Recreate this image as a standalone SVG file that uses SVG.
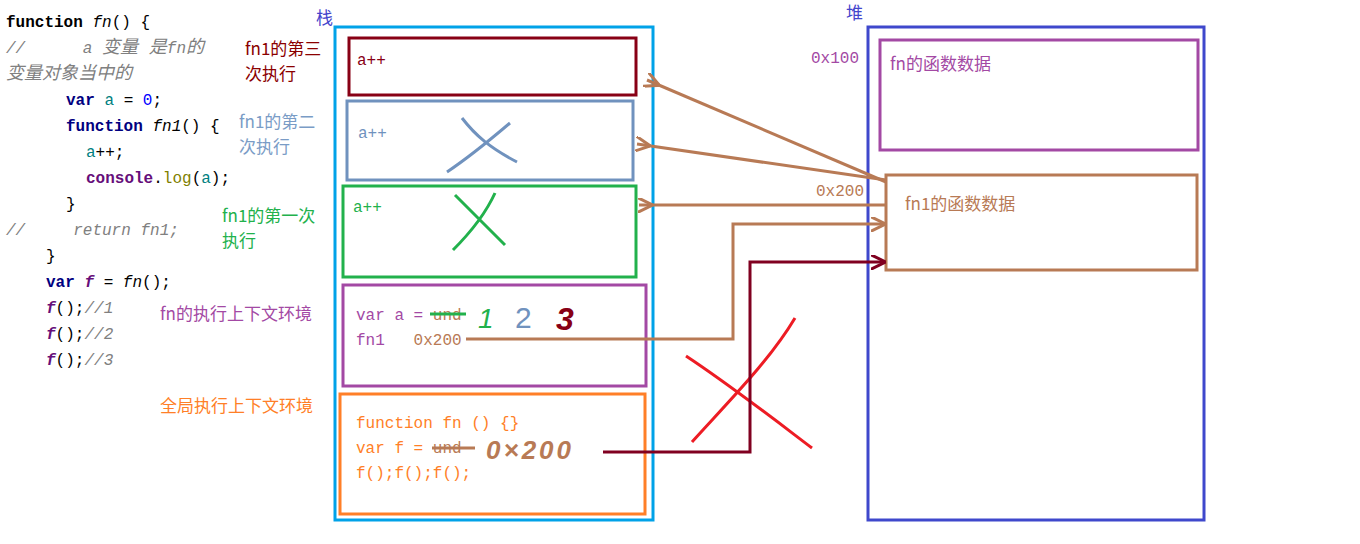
<svg xmlns="http://www.w3.org/2000/svg" width="1360" height="544" viewBox="0 0 1360 544" xml:space="preserve">
<style>
text{white-space:pre}
.m{font-family:"Liberation Mono","Noto Sans CJK SC",monospace;font-size:16px}
.c{font-family:"Noto Sans CJK SC",sans-serif;font-size:17px}
.b{font-weight:bold;fill:#000080}
.k{fill:#808080;font-style:italic}
.box{fill:none;stroke-width:3}
.ln{fill:none;stroke-width:3}
</style>
<defs>
<marker id="ab" viewBox="0 0 10 10" refX="9" refY="5" markerWidth="5" markerHeight="5" orient="auto-start-reverse"><path d="M10,0 L0,5 L10,10" fill="none" stroke="#b87a55" stroke-width="2"/></marker>
<marker id="ar" viewBox="0 0 10 10" refX="9" refY="5" markerWidth="5" markerHeight="5" orient="auto"><path d="M0,0 L10,5 L0,10" fill="none" stroke="#800020" stroke-width="2"/></marker>
<marker id="ao" viewBox="0 0 10 10" refX="9" refY="5" markerWidth="5" markerHeight="5" orient="auto"><path d="M0,0 L10,5 L0,10" fill="none" stroke="#b87a55" stroke-width="2"/></marker>
</defs>
<rect width="1360" height="544" fill="#fff"/>
<g id="code" class="m">
<text x="6" y="27" class="b" style="fill:#000">function <tspan font-style="italic" font-weight="normal">fn</tspan><tspan font-weight="normal">() {</tspan></text>
<text x="6" y="53" class="k">//      a <tspan font-size="18">变量 是</tspan>fn<tspan font-size="18">的</tspan></text>
<text x="6" y="79" class="k" font-size="18">变量对象当中的</text>
<text x="66" y="105"><tspan class="b">var</tspan> <tspan fill="#008080">a</tspan> = <tspan fill="#0000ff">0</tspan>;</text>
<text x="66" y="131"><tspan class="b">function</tspan> <tspan font-style="italic">fn1</tspan>() {</text>
<text x="86" y="157" fill="#008080">a<tspan fill="#000">++;</tspan></text>
<text x="86" y="183"><tspan font-weight="bold" fill="#660e7a">console</tspan>.<tspan fill="#808000">log</tspan>(<tspan fill="#008080">a</tspan>);</text>
<text x="66" y="209">}</text>
<text x="6" y="235" class="k">//     return fn1;</text>
<text x="46" y="261">}</text>
<text x="46" y="287"><tspan class="b">var</tspan> <tspan font-style="italic" font-weight="bold" fill="#660e7a">f</tspan> = <tspan font-style="italic">fn</tspan>();</text>
<text x="46" y="313"><tspan font-style="italic" font-weight="bold" fill="#660e7a">f</tspan>();<tspan class="k">//1</tspan></text>
<text x="46" y="339"><tspan font-style="italic" font-weight="bold" fill="#660e7a">f</tspan>();<tspan class="k">//2</tspan></text>
<text x="46" y="365"><tspan font-style="italic" font-weight="bold" fill="#660e7a">f</tspan>();<tspan class="k">//3</tspan></text>
</g>
<g id="labels" class="c">
<text x="245" y="55" fill="#8b0000">fn1的第三</text><text x="245" y="80" fill="#8b0000">次执行</text>
<text x="239" y="128" fill="#7a9cc6">fn1的第二</text><text x="239" y="153" fill="#7a9cc6">次执行</text>
<text x="222" y="222" fill="#22b14c">fn1的第一次</text><text x="222" y="247" fill="#22b14c">执行</text>
<text x="160" y="320" fill="#a349a4">fn的执行上下文环境</text>
<text x="160" y="412" fill="#ff7f27">全局执行上下文环境</text>
<text x="316" y="24" fill="#4444cc">栈</text>
<text x="846" y="19" fill="#4444cc">堆</text>
</g>
<g id="stack"><rect x="335" y="27" width="318" height="493" class="box" stroke="#00a2e8"/></g>
<g id="heap"><rect x="868" y="27" width="336" height="493" class="box" stroke="#3f48cc"/></g>
<g id="fn1-3"><rect x="349" y="38" width="287" height="57" class="box" stroke="#880015"/><text x="357" y="65" class="m" fill="#880015" font-size="14">a++</text></g>
<g id="fn1-2"><rect x="347" y="101" width="286" height="79" class="box" stroke="#7092be"/><text x="358" y="138" class="m" fill="#7092be" font-size="14">a++</text>
<path d="M462,118 C475,135 490,148 517,162 M510,123 C490,140 465,160 447,172" class="ln" stroke="#7092be"/></g>
<g id="fn1-1"><rect x="343" y="186" width="293" height="91" class="box" stroke="#22b14c"/><text x="353" y="212" class="m" fill="#22b14c" font-size="14">a++</text>
<path d="M455,195 C470,210 490,230 505,245 M495,193 C485,215 468,235 453,250" class="ln" stroke="#22b14c"/></g>
<g id="fn" class="m"><rect x="343" y="285" width="303" height="101" class="box" stroke="#a349a4"/>
<text x="356" y="320" fill="#a349a4">var a = <tspan fill="#b87a55">und</tspan></text>
<line x1="430" y1="314" x2="466" y2="314" stroke="#22b14c" stroke-width="3"/>
<text x="356" y="345" fill="#a349a4">fn1   <tspan fill="#b87a55">0x200</tspan></text>
<text x="478" y="328" fill="#22b14c" font-size="28" font-family="Liberation Sans,sans-serif" font-style="italic">1</text>
<text x="515" y="328" fill="#7092be" font-size="30" font-family="Liberation Sans,sans-serif">2</text>
<text x="556" y="330" fill="#880015" font-size="32" font-family="Liberation Sans,sans-serif" font-weight="bold" font-style="italic">3</text></g>
<g id="global" class="m"><rect x="340" y="394" width="305" height="120" class="box" stroke="#ff7f27"/>
<text x="356" y="428" fill="#ff7f27">function fn () {}</text>
<text x="356" y="453" fill="#ff7f27">var f = <tspan fill="#b87a55">und</tspan></text>
<line x1="432" y1="448" x2="475" y2="448" stroke="#b87a55" stroke-width="3"/>
<text x="356" y="478" fill="#ff7f27">f();f();f();</text>
<text x="486" y="459" fill="#b87a55" font-size="26" font-family="Liberation Sans,sans-serif" font-style="italic" font-weight="bold" letter-spacing="3">0×200</text></g>
<g id="fndata"><rect x="880" y="40" width="318" height="110" class="box" stroke="#a349a4"/><text x="890" y="70" class="c" fill="#a349a4">fn的函数数据</text>
<text x="811" y="63" class="m" fill="#a349a4">0x100</text></g>
<g id="fn1data"><rect x="886" y="175" width="311" height="95" class="box" stroke="#b87a55"/><text x="905" y="210" class="c" fill="#b87a55">fn1的函数数据</text>
<text x="816" y="196" class="m" fill="#b87a55">0x200</text></g>
<g id="cross"><path d="M686,356 C730,385 775,420 812,448 M795,318 C770,360 730,400 692,442" class="ln" stroke="#ed1c24"/></g>
<g id="connectors">
<line x1="886" y1="182" x2="647" y2="80" class="ln" stroke="#b87a55" marker-end="url(#ab)"/>
<line x1="886" y1="180" x2="637" y2="144" class="ln" stroke="#b87a55" marker-end="url(#ab)"/>
<line x1="886" y1="205" x2="639" y2="205" class="ln" stroke="#b87a55" marker-end="url(#ab)"/>
<polyline points="466,339 733,339 733,224 884,224" class="ln" stroke="#b87a55" marker-end="url(#ao)"/>
<polyline points="603,452 750,452 750,262 884,262" class="ln" stroke="#800020" marker-end="url(#ar)"/>
</g>
</svg>
